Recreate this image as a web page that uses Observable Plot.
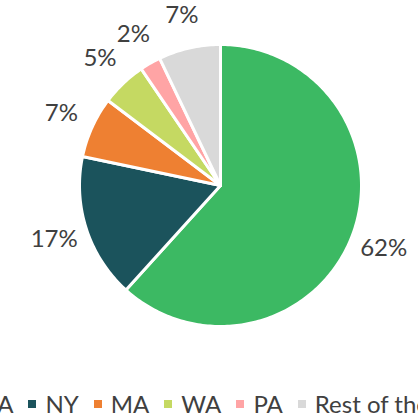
<!DOCTYPE html>
<html>
<head>
<meta charset="utf-8">
<script src="https://cdn.jsdelivr.net/npm/d3@7"></script>
<script src="https://cdn.jsdelivr.net/npm/@observablehq/plot@0.6"></script>
<style>
  html, body { margin: 0; padding: 0; background: #fff; overflow: hidden; }
  #wrap { width: 418px; height: 414px; position: relative; overflow: hidden; font-family: Lato, "Open Sans", sans-serif; }
  #legend { position: absolute; left: 6px; top: 390px; width: 418px; display: flex; justify-content: center; white-space: nowrap; font-size: 24px; color: #404040; line-height: 28px; }
  .item { display: flex; align-items: center; margin: 0 7.5px; flex: none; }
  .sw { width: 8px; height: 8px; margin-right: 9px; flex: none; }
</style>
</head>
<body>
<div id="wrap"><div id="chart"></div><div id="legend"></div></div>
<script>
const states = ["CA", "NY", "MA", "WA", "PA", "Rest of the US"];
const shares = [61.7, 16.6, 7.0, 5.2, 2.4, 7.1];
const labels = ["62%", "17%", "7%", "5%", "2%", "7%"];
const palette = ["#3cb963", "#1b535c", "#ee8032", "#c5d962", "#ffa4a5", "#d9d9d9"];

const arcs = d3.pie().sort(null).value(d => d)(shares);

// slice outlines in unit-radius coordinates (center = 0,0, y up)
const slicePts = [];
arcs.forEach((a, i) => {
  const n = Math.max(2, Math.ceil((a.endAngle - a.startAngle) / (Math.PI / 180)));
  slicePts.push({state: states[i], x: 0, y: 0});
  for (let k = 0; k <= n; k++) {
    const t = a.startAngle + (a.endAngle - a.startAngle) * k / n;
    slicePts.push({state: states[i], x: Math.sin(t), y: Math.cos(t)});
  }
  slicePts.push({state: states[i], x: 0, y: 0});
});

const labelR = 1.24;
const labelPts = arcs.map((a, i) => {
  const m = (a.startAngle + a.endAngle) / 2;
  return {state: states[i], label: labels[i], x: labelR * Math.sin(m), y: labelR * Math.cos(m)};
});

const R = 141, cx = 220, cy = 185, W = 418, H = 380;
const chart = Plot.plot({
  width: W,
  height: H,
  margin: 0,
  x: {domain: [-cx / R, (W - cx) / R], axis: null},
  y: {domain: [-(H - cy) / R, cy / R], axis: null},
  color: {domain: states, range: palette},
  style: {fontFamily: "Lato, 'Open Sans', sans-serif", background: "#fff"},
  marks: [
    Plot.line(slicePts, {x: "x", y: "y", z: "state", fill: "state", stroke: "#fff", strokeWidth: 3, strokeLinejoin: "round", curve: "linear"}),
    Plot.text(labelPts, {x: "x", y: "y", text: "label", fontSize: 24, fill: "#404040", textAnchor: "middle", lineAnchor: "middle"})
  ]
});
document.getElementById("chart").appendChild(chart);

const legend = document.getElementById("legend");
states.forEach((s, i) => {
  const it = document.createElement("div");
  it.className = "item";
  const sw = document.createElement("span");
  sw.className = "sw";
  sw.style.background = palette[i];
  const tx = document.createElement("span");
  tx.textContent = s;
  it.appendChild(sw);
  it.appendChild(tx);
  legend.appendChild(it);
});
</script>
</body>
</html>
